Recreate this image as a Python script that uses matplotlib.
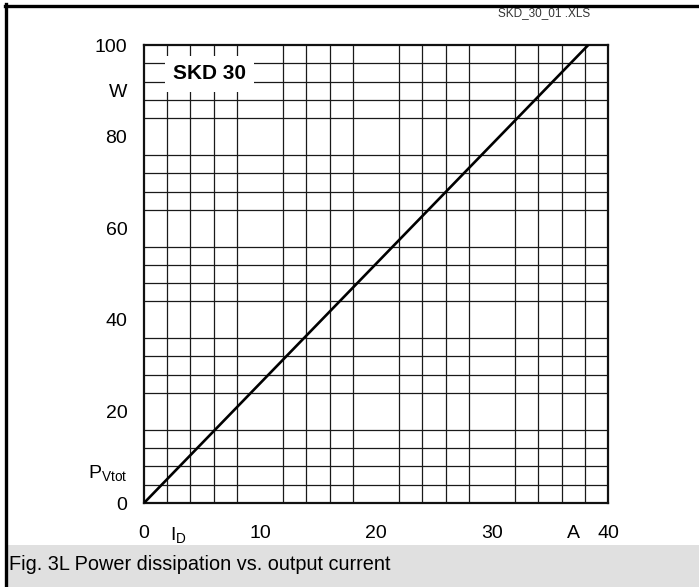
import matplotlib
matplotlib.use('Agg')
import matplotlib.pyplot as plt
import numpy as np
from matplotlib.patches import Rectangle
from matplotlib.lines import Line2D

plt.rcParams['font.family'] = ['Liberation Sans', 'DejaVu Sans']
plt.rcParams['mathtext.fontset'] = 'custom'
plt.rcParams['mathtext.rm'] = 'Liberation Sans'
plt.rcParams['mathtext.it'] = 'Liberation Sans'

# data
current = [0, 38.3]        # A
power = [0, 100]           # W

x_ticks = [0, 3, 10, 20, 30, 37, 40]
x_labels = ['0', r'I$_{\mathrm{D}}$', '10', '20', '30', 'A', '40']
y_ticks = [0, 7, 20, 40, 60, 80, 90, 100]
y_labels = ['0', r'P$_{\mathrm{Vtot}}$', '20', '40', '60', '80', 'W', '100']

title_box = 'SKD 30'
file_tag = 'SKD_30_01 .XLS'
caption = 'Fig. 3L Power dissipation vs. output current'

fig = plt.figure(figsize=(6.99, 5.87), dpi=100)
ax = fig.add_axes([144 / 699, 1 - 503 / 587, 464 / 699, 458 / 587])

ax.set_xlim(0, 40)
ax.set_ylim(0, 100)

# grid on minor ticks, labels on major ticks
ax.set_xticks(np.arange(0, 41, 2), minor=True)
ax.set_yticks(np.arange(0, 101, 4), minor=True)
ax.set_xticks(x_ticks)
ax.set_xticklabels(x_labels)
ax.set_yticks(y_ticks)
ax.set_yticklabels(y_labels)
ax.grid(False, which='major')
ax.grid(True, which='minor', color='#1a1a1a', linewidth=0.9)
ax.tick_params(which='both', length=0)
ax.tick_params(axis='x', pad=16, labelsize=14)
ax.tick_params(axis='y', pad=12, labelsize=14)
for s in ax.spines.values():
    s.set_linewidth(1.6)
    s.set_color('#111111')

ax.plot(current, power, color='black', linewidth=1.9, zorder=4)

# label box for the device
ax.add_patch(Rectangle((1.8, 89.7), 7.7, 7.9, facecolor='white', edgecolor='none', zorder=3))
ax.text(5.65, 93.7, title_box, ha='center', va='center', fontsize=15, fontweight='bold', zorder=5)

# frame lines, file tag and caption band
fig.add_artist(Line2D([5 / 699, 1], [1 - 5.5 / 587] * 2, transform=fig.transFigure, color='black', linewidth=2.4))
fig.add_artist(Line2D([5.5 / 699] * 2, [0, 1 - 4 / 587], transform=fig.transFigure, color='black', linewidth=2.4))
fig.add_artist(Rectangle((7 / 699, 0), 1, 42 / 587, transform=fig.transFigure, facecolor='#e0e0e0', edgecolor='none'))
fig.text(590 / 699, 1 - 13 / 587, file_tag, ha='right', va='center', fontsize=8.5, color='#333333')
fig.text(9 / 699, 1 - 565 / 587, caption, ha='left', va='center', fontsize=14.3)

fig.savefig('out.png', dpi=100)
